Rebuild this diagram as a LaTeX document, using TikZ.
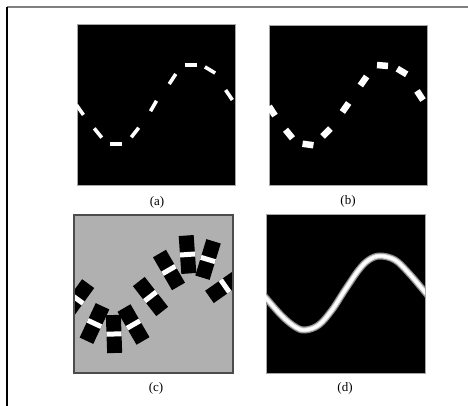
\documentclass[tikz,border=0pt]{standalone}
\usepackage{fontspec}
\setmainfont{Liberation Serif}
\begin{document}
\begin{tikzpicture}[x=1pt,y=-1pt,
  blackpanel/.style={fill=black,draw=black!35,line width=0.8},
  thindash/.style={white,line width=3.6},
  thickdash/.style={white,line width=6.5},
  blockrect/.style={fill=black},
  stripe/.style={white,line width=5},
  lbl/.style={font=\fontsize{13}{15}\selectfont,inner sep=0pt}]
\useasboundingbox (0,0) rectangle (468,406);
% frame
\draw[black!50,line width=1.5] (7,7) -- (468,7);
\draw[black,line width=1.5] (7,7) -- (7,406);
% (a)
\begin{scope}[shift={(77,24)}]
  \filldraw[blackpanel] (0,0) rectangle (158,161);
  \clip (0,0) rectangle (158,161);
  \foreach \u/\v/\a in {3/86/-55,21/109/-51,39/120/0,58/108.5/52,76.5/82/60,95.5/55/57,113.5/41/0,133/46/-31,152/71/-56}
    \draw[thindash,shift={(\u,\v)},rotate=\a] (-6,0) -- (6,0);
\end{scope}
% (b)
\begin{scope}[shift={(269,25)}]
  \filldraw[blackpanel] (0,0) rectangle (158,160);
  \clip (0,0) rectangle (158,160);
  \foreach \u/\v/\a in {3/86/-57,20/109/-51,39/119.5/-8,57.5/107.5/45,76.5/82.5/55,94.5/56/55,113.5/40.5/-5,133/46.5/-31,151/70.5/-57}
    \draw[thickdash,shift={(\u,\v)},rotate=\a] (-5.5,0) -- (5.5,0);
\end{scope}
% (c)
\begin{scope}[shift={(74,215)}]
  \fill[black!31] (0,0) rectangle (159,158);
  \begin{scope}
  \clip (0,0) rectangle (159,158);
  \foreach \u/\v/\a in {3/84/-36,20.5/108.5/-25,40/119/2,59.5/109.5/30,76.5/81.5/38,95/55/30,113.5/39.5/4,134/44.5/-17,151/71/-55}
    {\fill[blockrect,shift={(\u,\v)},rotate=\a] (-7.5,-19) rectangle (7.5,19);
     \draw[stripe,shift={(\u,\v)},rotate=\a] (-7.5,0) -- (7.5,0);}
  \end{scope}
  \draw[black!70,line width=1.6] (0,0) rectangle (159,158);
\end{scope}
% (d)
\begin{scope}[shift={(266,214)}]
  \filldraw[blackpanel] (0,0) rectangle (159,159);
  \clip (0,0) rectangle (159,159);
  \def\crv{plot[smooth,tension=0.6] coordinates {(-3,80) (0,84) (16,102) (29,112.7) (39,116) (52.7,111) (66,96) (79,76) (92.7,56) (102.7,46) (114,42) (129,46) (142.7,59) (158.7,77.7) (162,82)}}
  \draw[black!45,line width=7] \crv;
  \draw[black!12,line width=4.6] \crv;
  \draw[white,line width=2.8] \crv;
\end{scope}
% labels
\node[lbl] (la) at (157,202) {(a)};
\node[lbl] (lb) at (348,201) {(b)};
\node[lbl] (lc) at (156,388) {(c)};
\node[lbl] (ld) at (345,388) {(d)};
\end{tikzpicture}
\end{document}
